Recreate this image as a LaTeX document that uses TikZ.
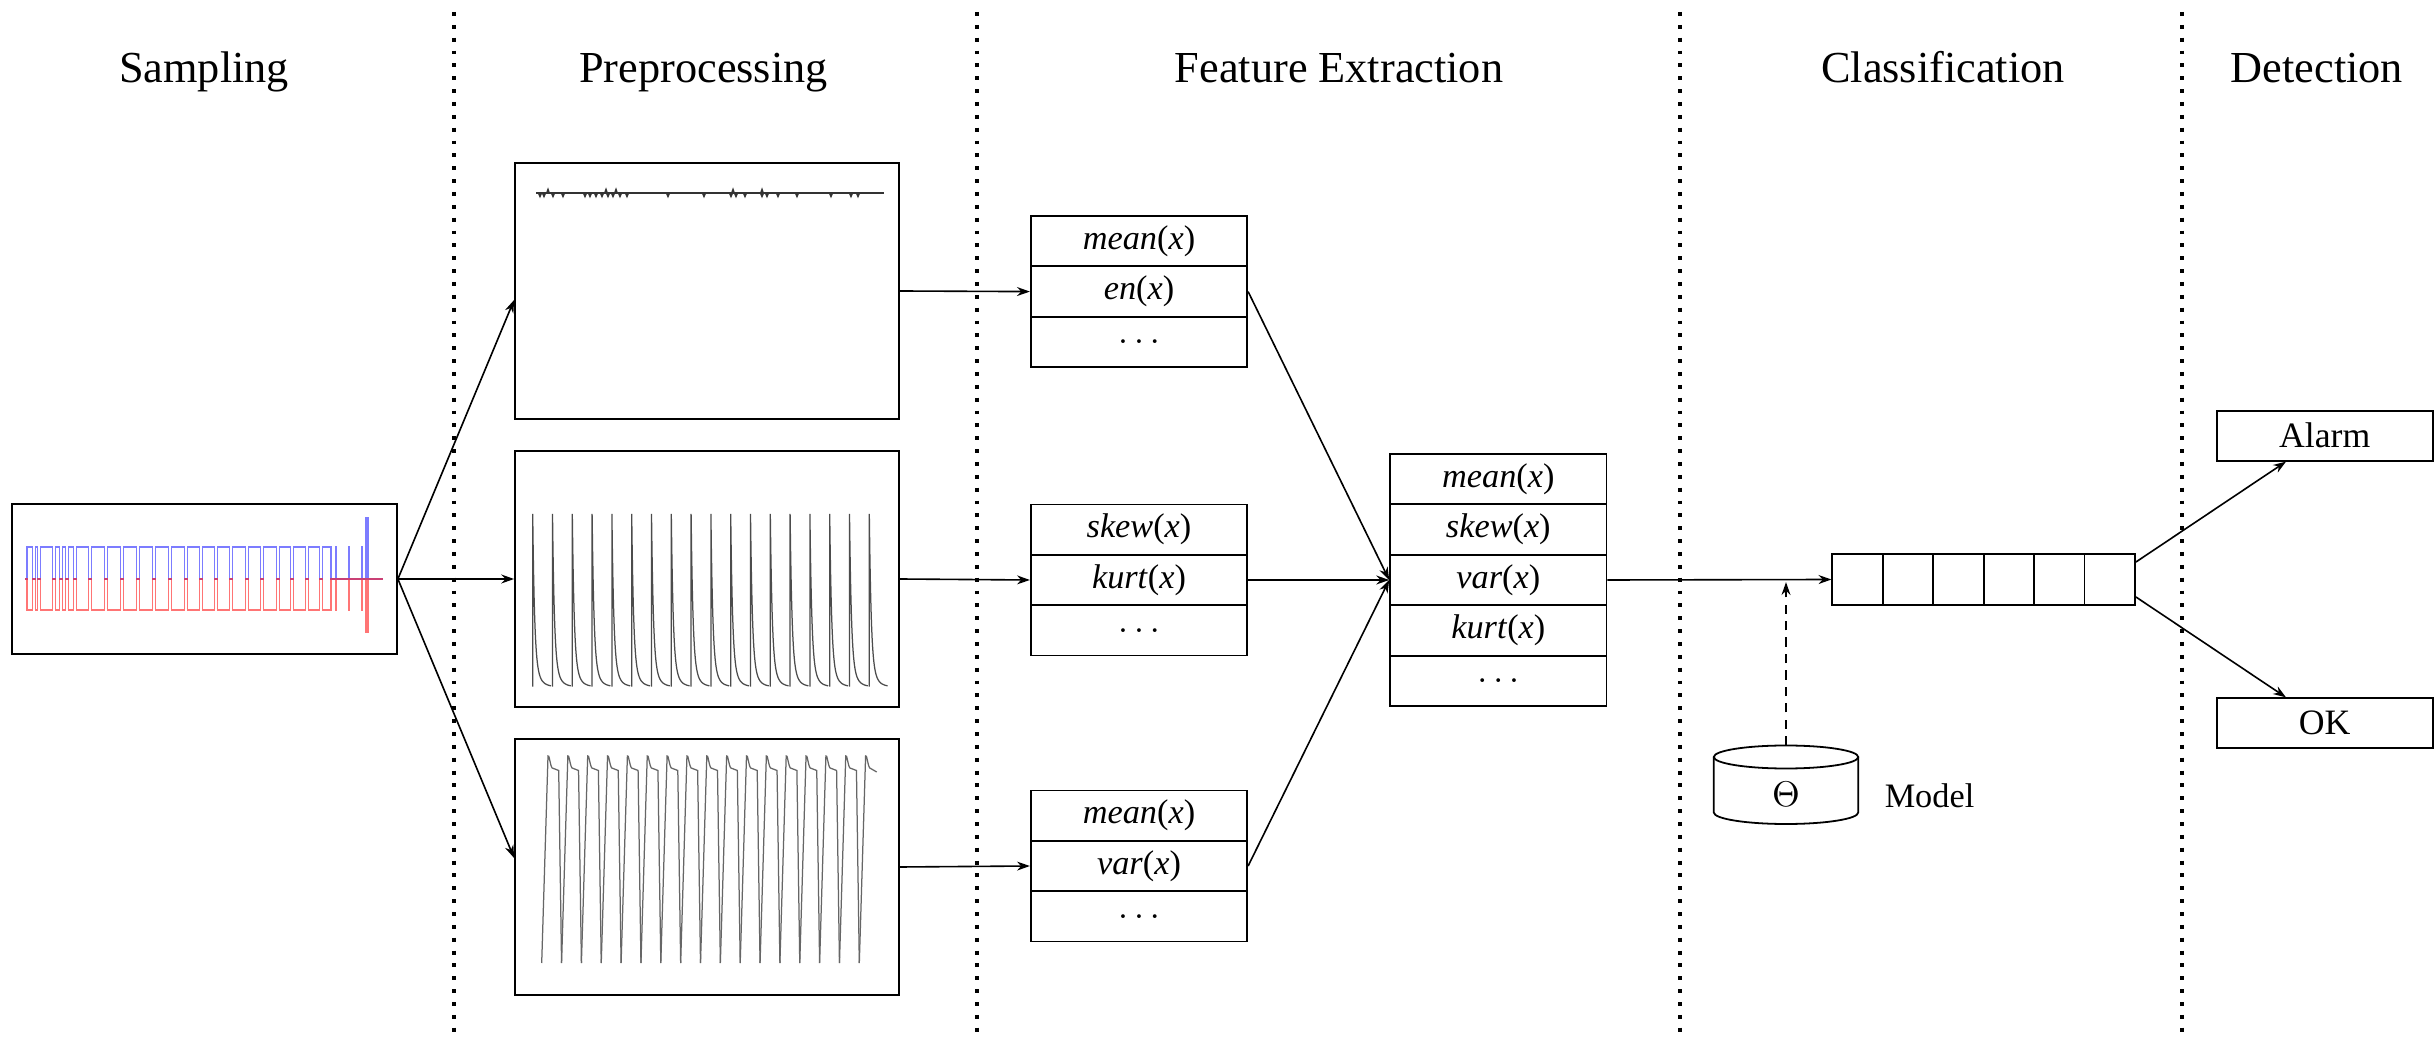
\documentclass[tikz,border=0pt]{standalone}
\usepackage{fontspec}
\setmainfont{Liberation Serif}
\usetikzlibrary{arrows.meta}

% feature label: italic name applied to x
\newcommand\featfn[1]{\textit{#1}(\textit{x})}

\begin{document}
\begin{tikzpicture}[x=0.28pt,y=-0.28pt,
  box/.style={draw, line width=0.5pt, inner sep=0pt},
  plotbox/.style={box, minimum width=107.5pt, minimum height=71.7pt},
  fcell/.style={box, minimum width=60.6pt, minimum height=14.1pt, font=\fontsize{9.6}{11}\selectfont},
  vcell/.style={box, minimum width=14.1pt, minimum height=14.3pt},
  outbox/.style={box, minimum width=60.5pt, minimum height=14pt, font=\fontsize{10}{12}\selectfont},
  title/.style={anchor=base, font=\fontsize{12.4}{15}\selectfont},
  sep/.style={line width=1.1pt, dash pattern=on 1.1pt off 2.5pt},
  conn/.style={line width=0.45pt},
  arr/.style={conn, -{Stealth[length=3.6pt,width=2.5pt]}},
  sig/.style={line width=0.35pt, black!70},
]
\path[use as bounding box, fill=white] (0,0) rectangle (2435,1038);

% column titles
\node[title] (tS) at (204,82.7) {Sampling};
\node[title] (tP) at (703.5,82.7) {Preprocessing};
\node[title] (tF) at (1339,82.7) {Feature Extraction};
\node[title] (tC) at (1943,82.7) {Classification};
\node[title] (tD) at (2317,82.7) {Detection};

% column separators
\foreach \sx in {454,976.8,1680.3,2182}
  \draw[sep] (\sx,12) -- (\sx,1038);

% ---------- sampling ----------
\node[box, minimum width=107.8pt, minimum height=42pt] (samp) at (204.5,579) {};
\def\dips{34,39,54,61,67,75,90,106,122,138,154,170,186,201,216,231,247,262,278,292,307,321}
\draw[line width=0.3pt, blue!85, opacity=0.6] (25,579) -- (27,579) -- (27,547)
  \foreach \d in \dips { -- ({\d-1.5},547) -- ({\d-1.5},579) -- ({\d+1.5},579) -- ({\d+1.5},547) }
  -- (331,547) -- (331,579)
  -- (335.3,579) -- (335.3,547) -- (336.7,547) -- (336.7,579)
  -- (348.3,579) -- (348.3,547) -- (349.7,547) -- (349.7,579)
  -- (361.3,579) -- (361.3,547) -- (362.7,547) -- (362.7,579)
  -- (366,579) -- (366,518) -- (368,518) -- (368,579) -- (383,579);
\draw[line width=0.3pt, red!90, opacity=0.6] (25,579) -- (27,579) -- (27,610)
  \foreach \d in \dips { -- ({\d-1.5},610) -- ({\d-1.5},579) -- ({\d+1.5},579) -- ({\d+1.5},610) }
  -- (331,610) -- (331,579)
  -- (335.3,579) -- (335.3,610) -- (336.7,610) -- (336.7,579)
  -- (348.3,579) -- (348.3,610) -- (349.7,610) -- (349.7,579)
  -- (361.3,579) -- (361.3,610) -- (362.7,610) -- (362.7,579)
  -- (366,579) -- (366,632) -- (368,632) -- (368,579) -- (383,579);

% ---------- preprocessing ----------
\node[plotbox] (p1) at (707,291) {};
\node[plotbox] (p2) at (707,579) {};
\node[plotbox] (p3) at (707,867) {};

% nearly flat trace
\draw[line width=0.4pt, black!80] (536,193) -- (884,193);
\foreach \n in {540,544,553,563,585,590,596,602,608,613,620,627,668,704,731,736,745,762,767,778,797,831,851,858}
  \draw[line width=0.4pt, black!80] ({\n-1.5},193) -- (\n,196.5) -- ({\n+1.5},193);
\foreach \n in {548,606,616,733,762}
  \draw[line width=0.4pt, black!80] ({\n-1.2},193) -- (\n,189.5) -- ({\n+1.2},193);

% decaying spikes
\foreach \i in {0,...,17}{
  \pgfmathsetmacro\xs{532.7+19.8*\i}
  \draw[sig] (\xs,686.7) -- (\xs,514) -- plot[domain=0:18.3, samples=40]
    ({\xs+\x},{686.7-172.7*(0.8*exp(-\x/1.8)+0.2*exp(-\x/5))});
}

% pulse train
\foreach \i in {0,...,15}{
  \pgfmathsetmacro\b{541.7+19.85*\i}
  \draw[sig, black!60] (\b,963) -- ({\b+6.3},756) .. controls ({\b+7.3},753) and ({\b+8.5},766) ..
    ({\b+10.5},768) -- ({\b+17},770.5) -- ({\b+19.85},963);
}
\draw[sig, black!60] (859.3,963) -- (865.6,756) .. controls (866.6,753) and (867.8,766) ..
  (869.8,768) -- (876.7,772);

% ---------- feature extraction ----------
\node[fcell] (f1a) at (1139,241.2) {\featfn{mean}};
\node[fcell] (f1b) at (1139,291.6) {\featfn{en}};
\node[fcell] (f1c) at (1139,342.0) {$\ldots$};

\node[fcell] (f2a) at (1139,529.6) {\featfn{skew}};
\node[fcell] (f2b) at (1139,580.0) {\featfn{kurt}};
\node[fcell] (f2c) at (1139,630.4) {$\ldots$};

\node[fcell] (f3a) at (1139,815.6) {\featfn{mean}};
\node[fcell] (f3b) at (1139,866.0) {\featfn{var}};
\node[fcell] (f3c) at (1139,916.4) {$\ldots$};

\node[fcell] (m1) at (1498.3,479.2) {\featfn{mean}};
\node[fcell] (m2) at (1498.3,529.6) {\featfn{skew}};
\node[fcell] (m3) at (1498.3,580.0) {\featfn{var}};
\node[fcell] (m4) at (1498.3,630.4) {\featfn{kurt}};
\node[fcell] (m5) at (1498.3,680.8) {$\ldots$};

% ---------- classification ----------
\foreach \k in {1,...,6}
  \node[vcell] (v\k) at ({1857.5+50.45*(\k-1)},579.5) {};

\node[minimum width=40.4pt, minimum height=21.8pt, inner sep=0pt] (cyl) at (1786,785) {};
\draw[line width=0.5pt] (1786,757) ellipse [x radius=72.2, y radius=11.5];
\draw[line width=0.5pt] (1713.8,757) -- (1713.8,812.5)
  arc[start angle=180, end angle=0, x radius=72.2, y radius=11.5] -- (1858.2,757);
\node[anchor=base, font=\fontsize{10}{12}\selectfont] (theta) at (1786,806) {$\Theta$};
\node[anchor=base, font=\fontsize{9.6}{12}\selectfont] (model) at (1929.5,807.3) {Model};

% ---------- detection ----------
\node[outbox] (alarm) at (2324.7,435.7) {Alarm};
\node[outbox] (ok) at (2324.7,723.3) {OK};

% ---------- connectors ----------
\draw[arr] (samp.east) -- ([yshift=-2.5pt]p1.west);
\draw[arr] (samp.east) -- (p2.west);
\draw[arr] (samp.east) -- ([yshift=2.5pt]p3.west);

\draw[arr] (p1.east) -- (f1b.west);
\draw[arr] (p2.east) -- (f2b.west);
\draw[arr] (p3.east) -- (f3b.west);

\draw[arr] (f1b.east) -- (m3.west);
\draw[arr] (f2b.east) -- (m3.west);
\draw[arr] (f3b.east) -- (m3.west);

\coordinate (mj) at (cyl.north |- m3.east);
\draw[arr] (m3.east) -- (v1.west);
\draw[arr, dash pattern=on 2.6pt off 2pt] (cyl.north) -- ([yshift=-0.6pt]mj);

\draw[arr] (v6) -- (alarm);
\draw[arr] (v6) -- (ok);
\end{tikzpicture}
\end{document}
